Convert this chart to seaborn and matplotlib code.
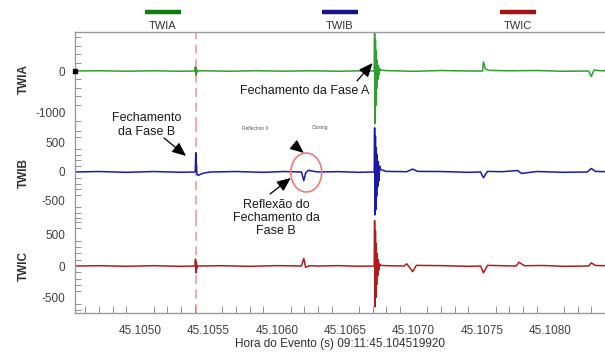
import matplotlib
matplotlib.use("Agg")
import matplotlib.pyplot as plt
from matplotlib.lines import Line2D
from matplotlib.patches import Ellipse
from matplotlib.ticker import MultipleLocator, FormatStrFormatter, FixedLocator
import numpy as np
import pandas as pd
import seaborn as sns

# ---- recorded traveling-wave samples (time in s, amplitude) ----
twia_t = [45.10452, 45.10470, 45.10490, 45.10510, 45.10530, 45.105400, 45.105404,
          45.105407, 45.105410, 45.105413, 45.105416, 45.105420, 45.10545, 45.10565,
          45.10585, 45.10605, 45.10625, 45.10645, 45.10660, 45.106712, 45.106715,
          45.106718, 45.106721, 45.106724, 45.106727, 45.106730, 45.106734, 45.106738,
          45.106742, 45.106747, 45.106752, 45.106760, 45.10680, 45.10700, 45.10720,
          45.10740, 45.107505, 45.107511, 45.107525, 45.10755, 45.10770, 45.10790,
          45.10810, 45.10828, 45.108299, 45.10832, 45.10835, 45.10840]
twia_v = [0, 6, -5, 5, -6, 0, 100, -100, 70, -50, 20, 0, 5, -5,
          6, -4, 5, -6, 3, 0, 950,
          -1250, 750, -820, 480, -420, 260, -200,
          130, -90, 60, 20, 10, -8, 12,
          0, 0, 220, 50, 15, 5, 12,
          -6, 0, -130, 25, 10, 5]

twib_t = [45.10452, 45.10470, 45.10490, 45.10510, 45.10530, 45.105403, 45.105407,
          45.105411, 45.105416, 45.105425, 45.10544, 45.10547, 45.10552, 45.10570,
          45.10590, 45.10605, 45.10618, 45.106197, 45.10621, 45.10623, 45.10626,
          45.10630, 45.10645, 45.10660, 45.106712, 45.106715, 45.106718, 45.106721,
          45.106724, 45.106727, 45.106730, 45.106734, 45.106738, 45.106742, 45.106747,
          45.106752, 45.106760, 45.10680, 45.10695, 45.106993, 45.10703, 45.10720,
          45.10740, 45.10749, 45.107511, 45.10754, 45.10765, 45.10776, 45.10779,
          45.10790, 45.10810, 45.10827, 45.10830, 45.10833, 45.10840]
twib_v = [0, 8, -6, 8, -5, 0, 330,
          150, -40, -60, -40, -15, 0, 8,
          -6, 8, 0, -150, -20, 30, 15,
          0, 6, -6, 0, 760, -740, 620,
          -650, 420, -420, 300, -250, 180, -150,
          100, 40, 10, 5, 50, 10, 8,
          -6, 0, -100, 10, 5, 25, -25,
          8, -6, 0, 60, 10, 5]

twic_t = [45.10452, 45.10470, 45.10490, 45.10510, 45.10530, 45.105402, 45.105405,
          45.105408, 45.105411, 45.105414, 45.10542, 45.10560, 45.10580, 45.10600,
          45.10618, 45.106197, 45.10621, 45.10624, 45.10630, 45.10645, 45.10660,
          45.106712, 45.106715, 45.106718, 45.106721, 45.106724, 45.106727, 45.106730,
          45.106734, 45.106738, 45.106742, 45.106747, 45.106752, 45.106760, 45.10680,
          45.10693, 45.10695, 45.106993, 45.10702, 45.10720, 45.10740, 45.10749,
          45.107511, 45.10754, 45.10765, 45.10775, 45.10777, 45.10781, 45.10795,
          45.10810, 45.10828, 45.10830, 45.10833, 45.10840]
twic_v = [0, 5, -4, 5, -5, 0, 110,
          -110, 60, -40, 0, 5, -5, 6,
          0, 120, -20, 5, 0, 6, -4,
          0, 720, -650, 560, -500, 350, -300,
          200, -150, 100, -60, 30, 10, 5,
          0, 35, -90, 10, 6, -5, 0,
          -110, 10, 5, 0, 60, 5, 8,
          -5, 0, 50, 8, 5]

trace_names = ["TWIA", "TWIB", "TWIC"]
trace_times = [twia_t, twib_t, twic_t]
trace_values = [twia_v, twib_v, twic_v]
trace_colors = ["#2f9e2f", "#1a1aa8", "#b01c1c"]
legend_colors = ["#0f7a0f", "#14148c", "#a31515"]

y_limits = [(-1302, 929), (-816, 798), (-746, 741)]
y_major = [[-1000, 0], [-500, 0, 500], [-500, 0, 500]]
y_minor_step = [200, 100, 100]

x_start, x_end = 45.10452, 45.10840
closing_time = 45.105409
event_stamp = "Hora do Evento (s) 09:11:45.104519920"

sns.set_theme(style="white")
plt.rcParams["font.family"] = ["Liberation Sans", "DejaVu Sans"]
plt.rcParams["axes.unicode_minus"] = False

W, H = 605, 354
fig = plt.figure(figsize=(W / 100, H / 100), dpi=100)

left_px, right_px, top_px, bottom_px = 74.5, 605, 32, 313
panel_h = (bottom_px - top_px) / 3
spine_col = "#9a9a9a"
tick_col = "#404040"

axes = []
for i in range(3):
    y_top = top_px + i * panel_h
    ax = fig.add_axes([left_px / W, 1 - (y_top + panel_h) / H,
                       (right_px - left_px) / W, panel_h / H])
    axes.append(ax)
    df = pd.DataFrame({"t": trace_times[i], "v": trace_values[i]})
    sns.lineplot(data=df, x="t", y="v", ax=ax, color=trace_colors[i],
                 lw=1.1, estimator=None, sort=False)
    ax.axvline(closing_time, color="#f5a3a3", lw=1.3, ls=(0, (5, 3)), zorder=0)
    ax.set_xlim(x_start, x_end)
    ax.set_ylim(*y_limits[i])
    ax.yaxis.set_major_locator(FixedLocator(y_major[i]))
    ax.yaxis.set_minor_locator(MultipleLocator(y_minor_step[i]))
    ax.xaxis.set_major_locator(MultipleLocator(0.0005))
    ax.xaxis.set_minor_locator(MultipleLocator(0.0001))
    ax.xaxis.set_major_formatter(FormatStrFormatter("%.4f"))
    ax.set_ylabel(trace_names[i], fontsize=8.5, fontweight="bold",
                  color="#303030")
    ax.tick_params(axis="y", which="major", direction="inout", length=7,
                   width=0.8, color="#707070", labelsize=8.5, labelcolor=tick_col, pad=3)
    ax.tick_params(axis="y", which="minor", direction="in", length=4,
                   width=0.6, color="#808080", left=True)
    ax.tick_params(axis="x", which="major", direction="inout", length=9,
                   width=0.8, color="#707070", labelsize=8.5, labelcolor=tick_col, pad=4)
    ax.tick_params(axis="x", which="minor", direction="in", length=5,
                   width=0.6, color="#808080", bottom=True)
    for side in ["top", "bottom", "left", "right"]:
        ax.spines[side].set_color(spine_col)
        ax.spines[side].set_linewidth(1.0)
    ax.spines["right"].set_visible(False)
    if i != 0:
        ax.spines["top"].set_visible(False)
    if i != 2:
        ax.spines["bottom"].set_visible(False)
        ax.tick_params(axis="x", which="both", bottom=False, labelbottom=False)
        ax.set_xlabel("")
    else:
        ax.set_xlabel(event_stamp, fontsize=8.5, color="#303030", labelpad=1)
    ax.yaxis.set_label_coords(-0.085, 0.5)
    ax.set_facecolor("none")

# starting sample marker on TWIA
axes[0].plot(twia_t[0], twia_v[0], "s", ms=3, color="black", clip_on=False, zorder=5)

# legend above the plot: coloured bar with the name underneath
legend_x = [163, 340, 518]
for name, col, cx in zip(trace_names, legend_colors, legend_x):
    fig.add_artist(Line2D([(cx - 18) / W, (cx + 18) / W], [1 - 12 / H, 1 - 12 / H],
                          color=col, lw=3.2, solid_capstyle="butt"))
    fig.text(cx / W, 1 - 26 / H, name, ha="center", va="center",
             fontsize=8, color="#333333")

arrow = dict(arrowstyle="-|>,head_length=0.7,head_width=0.3", color="black",
             lw=0.9, shrinkA=0, shrinkB=0)
txt = dict(fontsize=9, color="#1a1a1a", ha="center", va="center", linespacing=1.15)

# phase A closing
axes[0].annotate("", xy=(45.10670, 190), xycoords="data",
                 xytext=(357, H - 81), textcoords="figure pixels", arrowprops=arrow)
fig.text(305 / W, 1 - 91 / H, "Fechamento da Fase A", **txt)

# phase B closing
axes[1].annotate("", xy=(45.105336, 276), xycoords="data",
                 xytext=(164, H - 138), textcoords="figure pixels", arrowprops=arrow)
fig.text(147 / W, 1 - 125 / H, "Fechamento\nda Fase B", **txt)

# reflection of phase B closing
axes[1].annotate("", xy=(45.106102, -103), xycoords="data",
                 xytext=(270, H - 194), textcoords="figure pixels", arrowprops=arrow)
axes[1].annotate("", xy=(45.106197, 328), xycoords="data",
                 xytext=(294, H - 145), textcoords="figure pixels",
                 arrowprops=dict(arrow, lw=0.8))
fig.text(276 / W, 1 - 218 / H, "Reflexão do\nFechamento da\nFase B", **txt)
axes[1].add_patch(Ellipse((45.106215, -9), 0.000226, 672, fill=False,
                          edgecolor="#f07a7a", lw=1.2, zorder=4))

# small event tags
fig.text(255 / W, 1 - 128 / H, "Reflection II", fontsize=3.5, color="#555555",
         ha="center", va="center")
fig.text(320 / W, 1 - 128 / H, "Closing", fontsize=3.5, color="#555555",
         ha="center", va="center")

fig.savefig("out.png", dpi=100)
